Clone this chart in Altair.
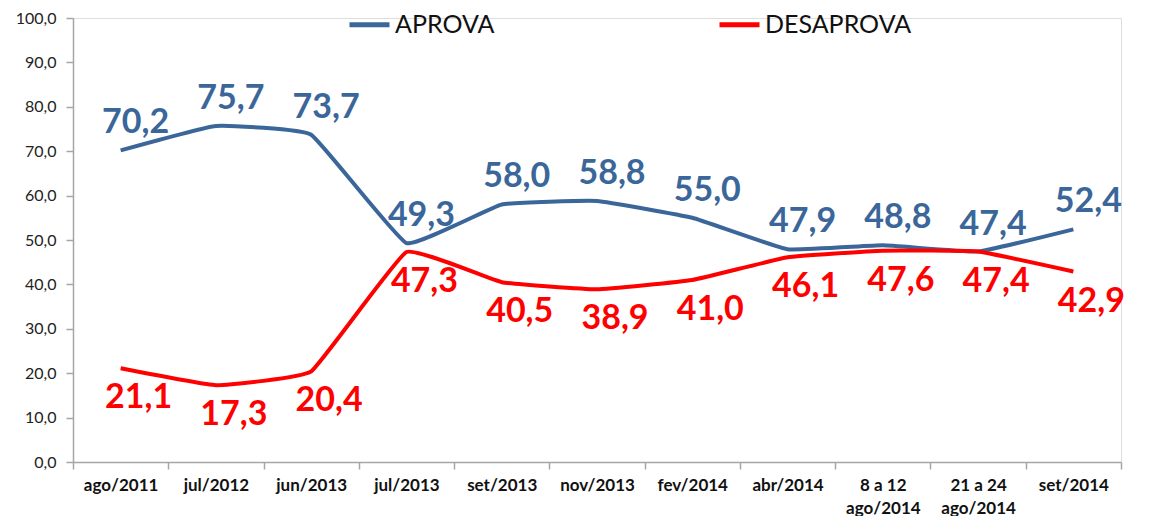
import altair as alt
import pandas as pd

categories = ["ago/2011", "jul/2012", "jun/2013", "jul/2013", "set/2013", "nov/2013",
              "fev/2014", "abr/2014", "8 a 12\nago/2014", "21 a 24\nago/2014", "set/2014"]
aprova = [70.2, 75.7, 73.7, 49.3, 58.0, 58.8, 55.0, 47.9, 48.8, 47.4, 52.4]
desaprova = [21.1, 17.3, 20.4, 47.3, 40.5, 38.9, 41.0, 46.1, 47.6, 47.4, 42.9]
series = ["APROVA", "DESAPROVA"]
y_ticks = [0, 10, 20, 30, 40, 50, 60, 70, 80, 90, 100]

BLUE = "#3B6699"
RED = "#FF0000"
FONT = "Lato"

rows = []
for name, vals in zip(series, [aprova, desaprova]):
    for c, v in zip(categories, vals):
        rows.append({"cat": c, "serie": name, "value": v,
                     "lbl": f"{v:.1f}".replace(".", ",")})
df = pd.DataFrame(rows)

x_enc = alt.X("cat:N", sort=categories, title=None,
              scale=alt.Scale(type="band", paddingInner=0, paddingOuter=0),
              axis=alt.Axis(labelAngle=0,
                            labelExpr="isValid(datum.value) ? split(datum.value, '\\n') : ''",
                            labelFont=FONT, labelFontSize=17, labelFontWeight="bold",
                            labelColor="#111111", labelLineHeight=23,
                            tickBand="extent", tickSize=7, labelPadding=8,
                            domainColor="#A6A6A6", tickColor="#A6A6A6",
                            domainWidth=1.5, tickWidth=1.5))
y_enc = alt.Y("value:Q", title=None,
              scale=alt.Scale(domain=[0, 100], nice=False),
              axis=alt.Axis(values=y_ticks, grid=False,
                            labelExpr="replace(format(datum.value, '.1f'), '.', ',')",
                            labelFont=FONT, labelFontSize=16, labelColor="#222222",
                            tickSize=7, labelPadding=10,
                            domainColor="#A6A6A6", tickColor="#A6A6A6",
                            domainWidth=1.5, tickWidth=1.5))
color_enc = alt.Color("serie:N",
                      scale=alt.Scale(domain=series, range=[BLUE, RED]),
                      legend=alt.Legend(title=None, orient="none", legendX=284, legendY=-6,
                                        direction="horizontal", columns=2,
                                        symbolType="M-2,0H2", symbolStrokeWidth=5,
                                        symbolSize=400, labelFont=FONT, labelFontSize=25,
                                        labelColor="#111111", labelOffset=13,
                                        columnPadding=214, padding=0))

base = alt.Chart(df).encode(x=x_enc, y=y_enc, color=color_enc)

lines = base.mark_line(strokeWidth=4, interpolate="cardinal", tension=0.7)

labels_up = base.transform_filter(alt.datum.serie == "APROVA").mark_text(
    dx=15, dy=-27, font=FONT, fontSize=34, fontWeight="bold", baseline="middle"
).encode(text="lbl:N")
labels_down = base.transform_filter(alt.datum.serie == "DESAPROVA").mark_text(
    dx=18, dy=30, font=FONT, fontSize=34, fontWeight="bold", baseline="middle"
).encode(text="lbl:N")

chart = alt.layer(lines, labels_up, labels_down).properties(
    width=1048, height=444,
    padding={"left": 7, "top": 2, "right": 5, "bottom": 0},
).configure_view(stroke=None).configure(background="white")

chart.save("out.html", embed_options={"renderer": "svg", "actions": False})
